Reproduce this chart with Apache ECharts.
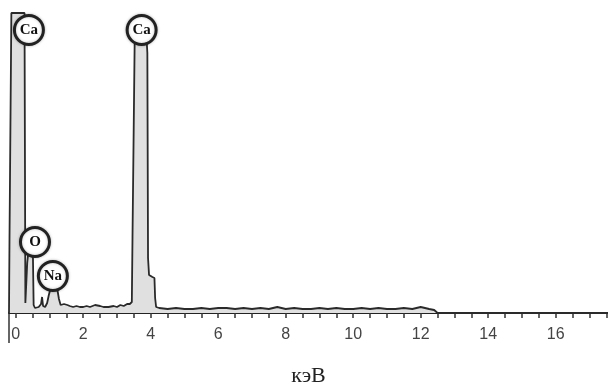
<!DOCTYPE html>
<html>
<head>
<meta charset="utf-8">
<script src="https://cdn.jsdelivr.net/npm/echarts@6/dist/echarts.min.js"></script>
<style>
html,body{margin:0;padding:0;background:#fff;}
#c{width:608px;height:387px;}
</style>
</head>
<body>
<div id="c"></div>
<script>
// Energy (keV) and intensity (arbitrary units)
const energy = [-0.2,-0.185,-0.14,-0.13,0.26,0.285,0.31,0.34,0.37,0.42,0.48,0.51,0.53,0.57,0.62,0.68,0.75,0.78,0.81,0.87,0.93,0.98,1.02,1.1,1.18,1.24,1.28,1.33,1.38,1.43,1.48,1.53,1.6,1.7,1.8,1.9,2.0,2.1,2.2,2.35,2.5,2.6,2.75,2.9,3.0,3.1,3.2,3.3,3.38,3.44,3.46,3.5,3.53,3.85,3.9,3.92,3.95,4.05,4.11,4.13,4.16,
  4.25,4.5,4.75,5.0,5.25,5.5,5.75,6.0,6.25,6.5,6.75,7.0,7.25,7.5,7.75,8.0,8.25,8.5,8.75,9.0,9.25,9.5,9.75,10.0,10.25,10.5,10.75,11.0,11.25,11.5,11.75,12.0,12.25,12.4,12.5,17.6];
const counts = [0,75,75,300,300,10,9,50,60,62,62,55,8,5,7,6,9,16,7,6,10,18,23,26,26,22,14,8,6,9,11,8,7,6,7,6,6,7,6,8,7,6,6,7,6,8,7,9,9,11,76,78,290,290,260,55,38,36,35,15,6,
  5,4,5,4,4,5,4,5,5,4,5,4,5,4,6,4,5,4,4,5,4,5,4,4,5,4,5,4,4,5,4,6,4,3,0,0];
// Peak labels
const peakNames = ['Ca','Ca','O','Na'];
const peakEnergy = [0.39,3.73,0.57,1.10];
const peakLevel = [283,283,71,37];
// Axis ticks and labels
const tickValues = [0,0.5,1,1.5,2,2.5,3,3.5,4,4.5,5,5.5,6,6.5,7,7.5,8,8.5,9,9.5,10,10.5,11,11.5,12,12.5,13,13.5,14,14.5,15,15.5,16,16.5,17,17.5];
const labelValues = [0,2,4,6,8,10,12,14,16];
const axisTitle = 'кэВ';

const chart = echarts.init(document.getElementById('c'), null, {renderer:'canvas'});
const data = energy.map((e,i)=>[e,counts[i]]);
chart.setOption({
  animation:false,
  backgroundColor:'#fff',
  grid:{left:9,right:0,top:8,bottom:74,outerBoundsMode:'none',containLabel:false},
  xAxis:{
    type:'value',min:-0.2,max:17.55,
    name:axisTitle,nameLocation:'middle',nameGap:52,
    nameTextStyle:{fontFamily:'Liberation Serif',fontSize:22,color:'#222'},
    axisLine:{show:true,onZero:false,lineStyle:{color:'#222',width:2}},
    axisTick:{show:true,customValues:tickValues,length:5,lineStyle:{color:'#333',width:1.5}},
    axisLabel:{customValues:labelValues,margin:14,fontFamily:'Liberation Sans',fontSize:16,color:'#444'},
    splitLine:{show:false}
  },
  yAxis:{type:'value',min:0,max:305,show:false,splitLine:{show:false}},
  series:[{
    type:'line',data:data,showSymbol:false,clip:true,
    lineStyle:{color:'#2a2a2a',width:1.8},
    areaStyle:{color:'#e0e0e0',opacity:1},
    markPoint:{
      symbol:'circle',symbolSize:29,
      itemStyle:{color:'#fff',borderColor:'#222',borderWidth:3,shadowColor:'rgba(0,0,0,0.25)',shadowBlur:3},
      label:{show:true,formatter:p=>p.name,fontFamily:'Liberation Serif',fontWeight:'bold',fontSize:15,color:'#111'},
      data:peakNames.map((n,i)=>({name:n,coord:[peakEnergy[i],peakLevel[i]]}))
    }
  }],
  graphic:[{type:'line',shape:{x1:9,y1:313,x2:9,y2:343},style:{stroke:'#333',lineWidth:1.5}}]
});
</script>
</body>
</html>
